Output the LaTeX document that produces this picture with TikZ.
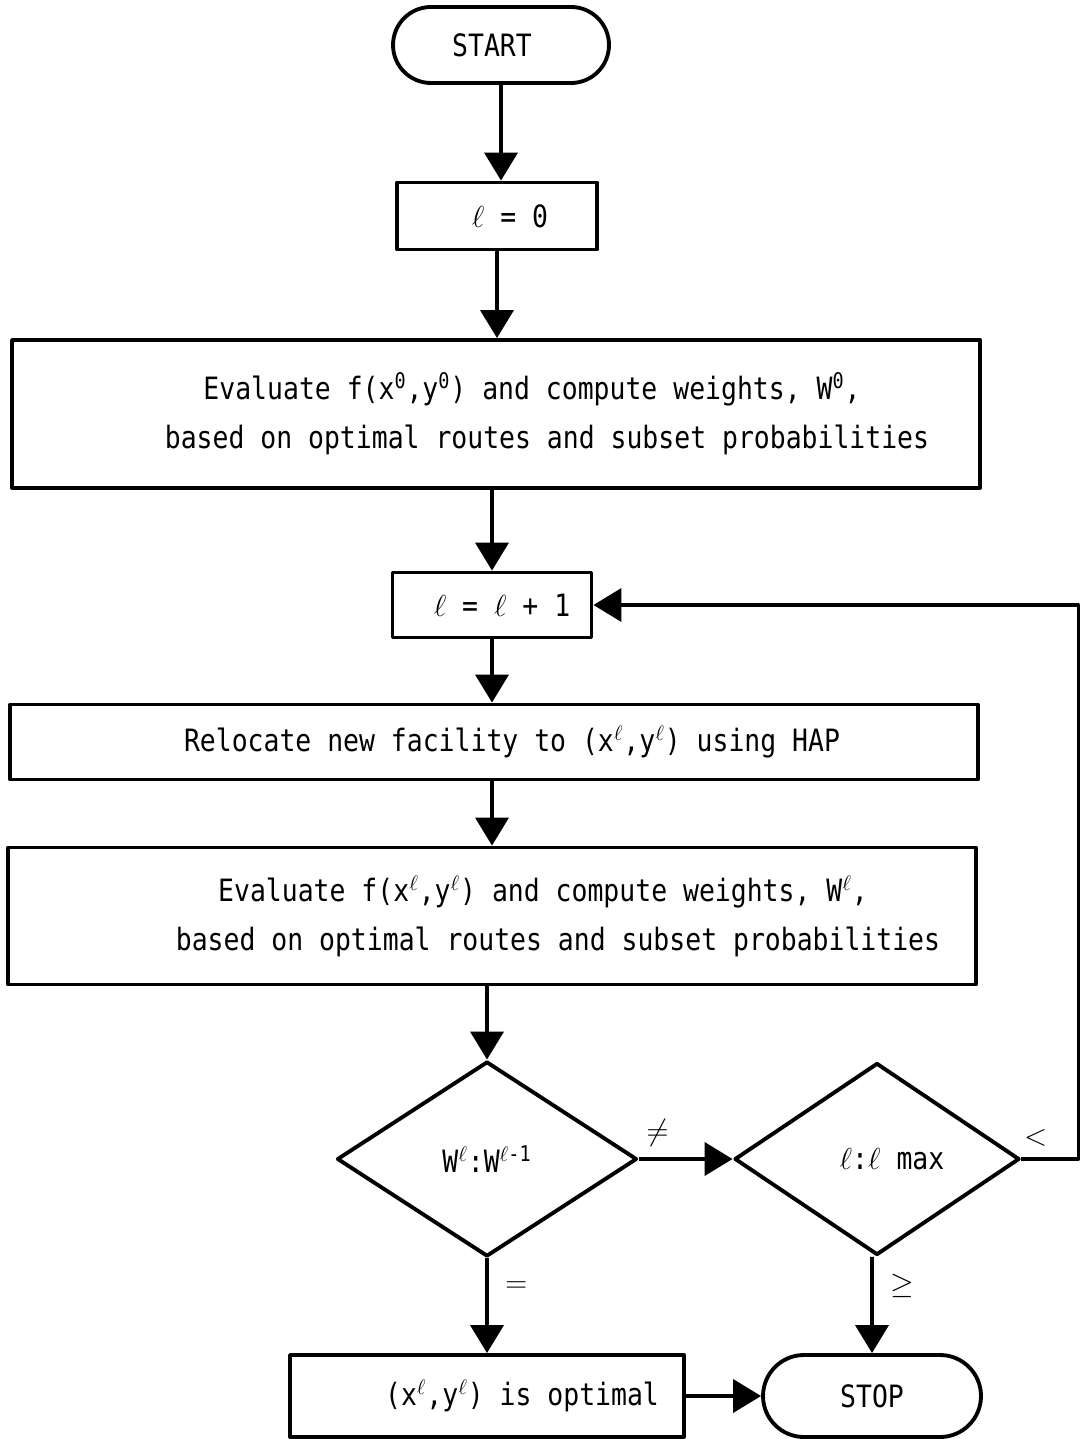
\documentclass[tikz,border=0pt]{standalone}
\usepackage{fontspec}
\setmonofont[FakeStretch=0.86]{DejaVu Sans Mono}
\usetikzlibrary{shapes.misc,shapes.geometric,arrows.meta}

\begin{document}
\begin{tikzpicture}[line width=2.2pt,line join=round]
	\tikzstyle{box}=[draw,rectangle,inner sep=2pt,align=center,font=\ttfamily\fontsize{17.5}{27.8}\selectfont];
	\tikzstyle{term}=[box,rounded rectangle];
	\tikzstyle{test}=[box,diamond,inner sep=0pt];
	\tikzstyle{arr}=[-{Triangle[width=0.66cm,length=0.56cm]}];
	\tikzstyle{lab}=[font=\fontsize{17.5}{20}\selectfont];
	\useasboundingbox (0,0) rectangle (21.58,-28.78);
	% main column
	\node[term,minimum width=4.46cm,minimum height=1.52cm] (start) at (10.02,-0.9) {START\hspace*{0.36cm}};
	\node[box,minimum width=4cm,minimum height=1.34cm] (lzero) at (9.94,-4.32) {\hspace*{0.52cm}$\ell$ = 0};
	\node[box,minimum width=19.36cm,minimum height=2.96cm] (eval0) at (9.92,-8.28)
		{\hspace*{1.44cm}Evaluate f(x\textsuperscript{0},y\textsuperscript{0}) and compute weights, W\textsuperscript{0},\\
		 \hspace*{2.04cm}based on optimal routes and subset probabilities};
	\node[box,minimum width=3.98cm,minimum height=1.3cm] (linc) at (9.84,-12.1) {\hspace*{0.4cm}$\ell$ = $\ell$ + 1};
	\node[box,minimum width=19.36cm,minimum height=1.5cm] (reloc) at (9.88,-14.84)
		{\hspace*{0.72cm}Relocate new facility to (x\textsuperscript{$\ell$},y\textsuperscript{$\ell$}) using HAP};
	\node[box,minimum width=19.36cm,minimum height=2.74cm] (evall) at (9.84,-18.32)
		{\hspace*{2.04cm}Evaluate f(x\textsuperscript{$\ell$},y\textsuperscript{$\ell$}) and compute weights, W\textsuperscript{$\ell$},\\
		 \hspace*{2.64cm}based on optimal routes and subset probabilities};
	\node[test,minimum width=6cm,minimum height=3.9cm] (cmpw) at (9.74,-23.18) {W\textsuperscript{$\ell$}:W\textsuperscript{$\ell$-1}};
	\node[test,minimum width=5.7cm,minimum height=3.84cm] (cmpl) at (17.54,-23.18) {\hspace*{0.6cm}$\ell$:$\ell$ max};
	\node[box,minimum width=7.88cm,minimum height=1.64cm] (opt) at (9.74,-27.92)
		{\hspace*{1.4cm}(x\textsuperscript{$\ell$},y\textsuperscript{$\ell$}) is optimal};
	\node[term,minimum width=4.5cm,minimum height=1.64cm] (stop) at (17.44,-27.92) {STOP};
	% connectors
	\draw[arr] (start) -- (start |- lzero.north);
	\draw[arr] (lzero) -- (lzero |- eval0.north);
	\draw[arr] (eval0.south -| linc) -- (linc);
	\draw[arr] (linc) -- (linc |- reloc.north);
	\draw[arr] (reloc.south -| evall) -- (evall);
	\draw[arr] (evall.south -| cmpw) -- (cmpw);
	\draw[arr] (cmpw) -- (cmpl) node[lab,pos=0.2,above=3pt]{$\neq$};
	\draw[arr] (cmpw) -- (opt) node[lab,pos=0.3,right=6pt]{$=$};
	\draw[arr] (cmpl.south -| stop) -- (stop) node[lab,pos=0.3,right=6pt]{$\geq$};
	\draw[arr] (opt) -- (stop);
	\draw[arr] (cmpl.east) -- ++(1.14,0) node[lab,pos=0.25,above=3pt]{$<$} |- (linc.east);
\end{tikzpicture}
\end{document}
